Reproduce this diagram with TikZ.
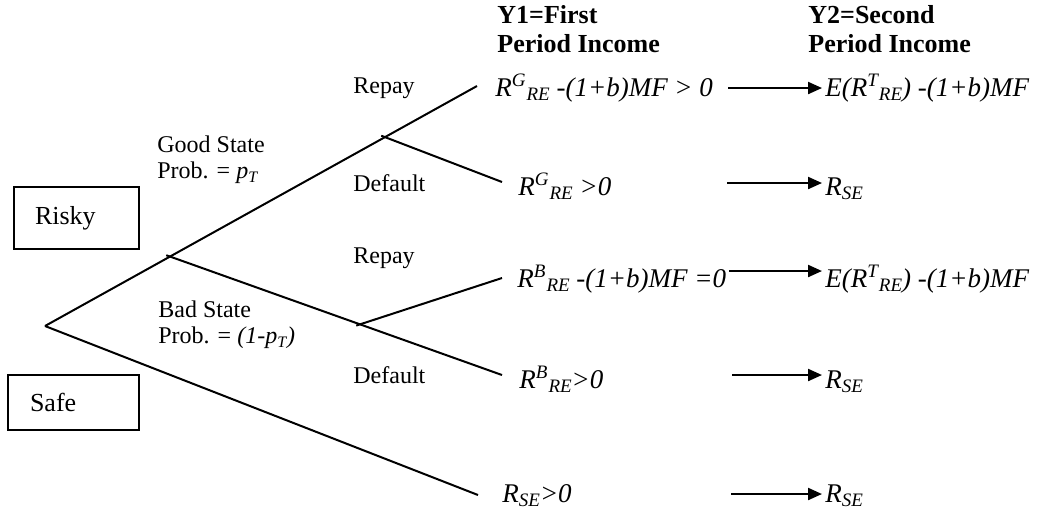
\documentclass[tikz,border=0pt]{standalone}
\usepackage{fontspec}
\setmainfont{Liberation Serif}
\usetikzlibrary{arrows.meta,calc}
\newcommand{\hi}[1]{\raisebox{5pt}{\fontsize{9.5pt}{9.5pt}\selectfont #1}\kern0.5pt}
\newcommand{\lo}[1]{\raisebox{-2pt}{\fontsize{9.5pt}{9.5pt}\selectfont #1}}
\newcommand{\los}[1]{\raisebox{-2pt}{\fontsize{8pt}{8pt}\selectfont #1}}
\begin{document}
\begin{tikzpicture}[x=0.5pt,y=-0.5pt,
  branch/.style={line width=1pt},
  flow/.style={line width=1.1pt,-{Triangle[length=7pt,width=6pt]}},
  lbl/.style={anchor=base west,inner sep=0,font=\fontsize{12pt}{14pt}\selectfont},
  head/.style={anchor=base west,inner sep=0,font=\bfseries\fontsize{13pt}{15pt}\selectfont},
  outc/.style={anchor=base west,inner sep=0,font=\itshape\fontsize{13.5pt}{16pt}\selectfont},
  choice/.style={draw,line width=0.9pt,align=left,inner ysep=0pt,font=\fontsize{13pt}{15pt}\selectfont}]
\useasboundingbox (0,0) rectangle (1037,516);

% headers
\node[head] (h1a) at (497,23) {Y1=First};
\node[head] (h1b) at (497,52) {Period Income};
\node[head] (h2a) at (808,23) {Y2=Second};
\node[head] (h2b) at (808,52) {Period Income};

% choice boxes
\node[choice,text width=41.5pt,inner xsep=10.5pt,minimum height=31pt] (risky) at (76.5,218) {Risky};
\node[choice,text width=43.5pt,inner xsep=11pt,minimum height=27.5pt] (safe) at (73.5,402.5) {Safe};

% tree coordinates
\coordinate (root) at (45,326);
\coordinate (gtop) at (477,86);
\coordinate (c1) at ($(root)!0.2894!(gtop)$);
\coordinate (c2) at ($(root)!0.787!(gtop)$);
\coordinate (gdef) at (502,182);
\coordinate (bend) at (502,375);
\coordinate (c3) at ($(c1)!0.5723!(bend)$);
\coordinate (brep) at (502,278);
\coordinate (send) at (478,495);

% tree lines
\draw[branch] (root) -- (gtop);
\draw[branch] ($(c2)!-2pt!(gdef)$) -- (gdef);
\draw[branch] ($(c1)!-2pt!(bend)$) -- (bend);
\draw[branch] ($(c3)!-2pt!(brep)$) -- (brep);
\draw[branch] (root) -- (send);

% branch labels
\node[lbl] (rep1) at (353,93) {Repay};
\node[lbl] (def1) at (353,191) {Default};
\node[lbl] (rep2) at (353,263) {Repay};
\node[lbl] (def2) at (353,383) {Default};
\node[lbl] (gs1) at (157,152) {Good State};
\node[lbl] (gs2) at (157,178) {Prob. = \textit{p}\los{\textit{T}}};
\node[lbl] (bs1) at (158,317) {Bad State};
\node[lbl] (bs2) at (158,343) {Prob. = \textit{(1-p}\los{\textit{T}}\textit{)}};

% first period outcomes
\node[outc] (o1) at (495,96) {R\hi{G}\lo{RE} -(1+b)MF > 0};
\node[outc] (o2) at (518,195) {R\hi{G}\lo{RE} >0};
\node[outc] (o3) at (517,287) {R\hi{B}\lo{RE} -(1+b)MF =0};
\node[outc] (o4) at (519,388) {R\hi{B}\lo{RE}>0};
\node[outc] (o5) at (502,502) {R\lo{SE}>0};

% second period outcomes
\node[outc] (p1) at (825,96) {E(R\hi{T}\lo{RE}) -(1+b)MF};
\node[outc] (p2) at (825,195) {R\lo{SE}};
\node[outc] (p3) at (825,287) {E(R\hi{T}\lo{RE}) -(1+b)MF};
\node[outc] (p4) at (825,388) {R\lo{SE}};
\node[outc] (p5) at (825,502) {R\lo{SE}};

% arrows
\coordinate (a1s) at (728,88);  \coordinate (a1e) at (822,88);
\coordinate (a2s) at (727,183); \coordinate (a2e) at (822,183);
\coordinate (a3s) at (729,271); \coordinate (a3e) at (822,271);
\coordinate (a4s) at (732,375); \coordinate (a4e) at (822,375);
\coordinate (a5s) at (731,494); \coordinate (a5e) at (822,494);
\draw[flow] (a1s) -- (a1e);
\draw[flow] (a2s) -- (a2e);
\draw[flow] (a3s) -- (a3e);
\draw[flow] (a4s) -- (a4e);
\draw[flow] (a5s) -- (a5e);
\end{tikzpicture}
\end{document}
